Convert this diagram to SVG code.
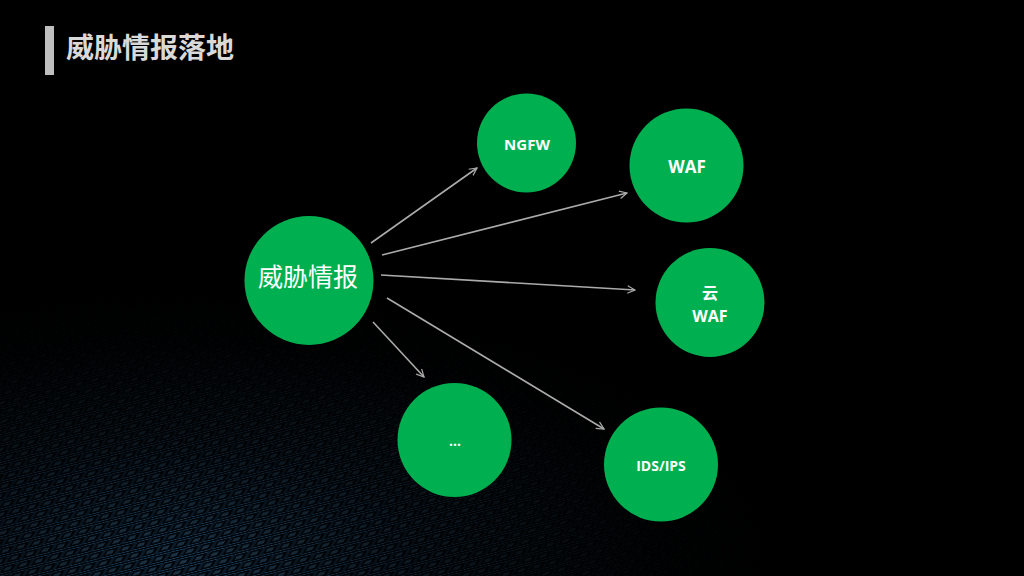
<svg xmlns="http://www.w3.org/2000/svg" width="1024" height="576" viewBox="0 0 1024 576">
  <defs>
    <style>
      .node { fill: #00B050; }
      .lbl { fill: #FFFFFF; font-family: "Open Sans", "Noto Sans", "Noto Sans CJK SC", sans-serif; font-weight: bold; text-anchor: middle; }
      .conn { stroke: #ABABAB; stroke-width: 1.6; fill: none; marker-end: url(#arr); }
    </style>
    <marker id="arr" viewBox="0 0 12 12" refX="11" refY="6" markerWidth="9" markerHeight="9" markerUnits="userSpaceOnUse" orient="auto">
      <path d="M1,1 L11,6 L1,11" fill="none" stroke="#ABABAB" stroke-width="1.6"/>
    </marker>
    <pattern id="grid" width="16" height="9" patternUnits="userSpaceOnUse" patternTransform="rotate(-14) skewX(-45)">
      <rect x="0" y="0" width="16" height="9" fill="#01060b"/>
      <rect x="1" y="1" width="14" height="7" fill="none" stroke="#3f8fd0" stroke-width="0.6" stroke-opacity="0.6"/>
      <rect x="4" y="3" width="7" height="3" fill="#6cc0ff" fill-opacity="0.28"/>
    </pattern>
    <radialGradient id="fade" cx="180" cy="560" r="600" gradientUnits="userSpaceOnUse" gradientTransform="translate(180 560) scale(1 0.45) translate(-180 -560)">
      <stop offset="0" stop-color="#fff" stop-opacity="0.9"/>
      <stop offset="0.4" stop-color="#fff" stop-opacity="0.4"/>
      <stop offset="0.8" stop-color="#fff" stop-opacity="0.06"/>
      <stop offset="1" stop-color="#fff" stop-opacity="0"/>
    </radialGradient>
    <mask id="gm">
      <rect x="0" y="0" width="1024" height="576" fill="url(#fade)"/>
    </mask>
  </defs>

  <rect x="0" y="0" width="1024" height="576" fill="#000000"/>
  <rect x="0" y="260" width="1024" height="316" fill="url(#grid)" mask="url(#gm)"/>

  <g id="title">
    <rect x="45" y="26" width="9" height="49" fill="#BFBFBF"/>
    <text x="66" y="58" font-family="Noto Sans CJK SC, sans-serif" font-size="28" font-weight="bold" fill="#D9D9D9">威胁情报落地</text>
  </g>

  <g id="connectors">
    <line class="conn" x1="371" y1="243" x2="477" y2="168"/>
    <line class="conn" x1="382" y1="255" x2="627" y2="193"/>
    <line class="conn" x1="381" y1="275" x2="635" y2="290"/>
    <line class="conn" x1="373" y1="322" x2="424" y2="377"/>
    <line class="conn" x1="387" y1="298" x2="604" y2="429"/>
  </g>

  <g id="node-main">
    <circle class="node" cx="309" cy="280.5" r="64.5"/>
    <text x="308" y="286" font-family="Noto Sans CJK SC, sans-serif" font-size="25" fill="#FFFFFF" text-anchor="middle">威胁情报</text>
  </g>
  <g id="node-ngfw">
    <circle class="node" cx="526.5" cy="143" r="49.5"/>
    <text class="lbl" x="527" y="150" font-size="15">NGFW</text>
  </g>
  <g id="node-waf">
    <circle class="node" cx="686.5" cy="165.5" r="57"/>
    <text class="lbl" x="687" y="173" font-size="17">WAF</text>
  </g>
  <g id="node-cloudwaf">
    <circle class="node" cx="710" cy="302.5" r="54.5"/>
    <text class="lbl" x="710" y="299" font-size="16" font-weight="normal">云</text>
    <text class="lbl" x="710" y="322" font-size="16">WAF</text>
  </g>
  <g id="node-more">
    <circle class="node" cx="454.5" cy="440" r="57"/>
    <text class="lbl" x="455" y="446" font-size="14">…</text>
  </g>
  <g id="node-idsips">
    <circle class="node" cx="661" cy="464.5" r="57"/>
    <text class="lbl" x="661" y="471" font-size="14">IDS/IPS</text>
  </g>
</svg>
